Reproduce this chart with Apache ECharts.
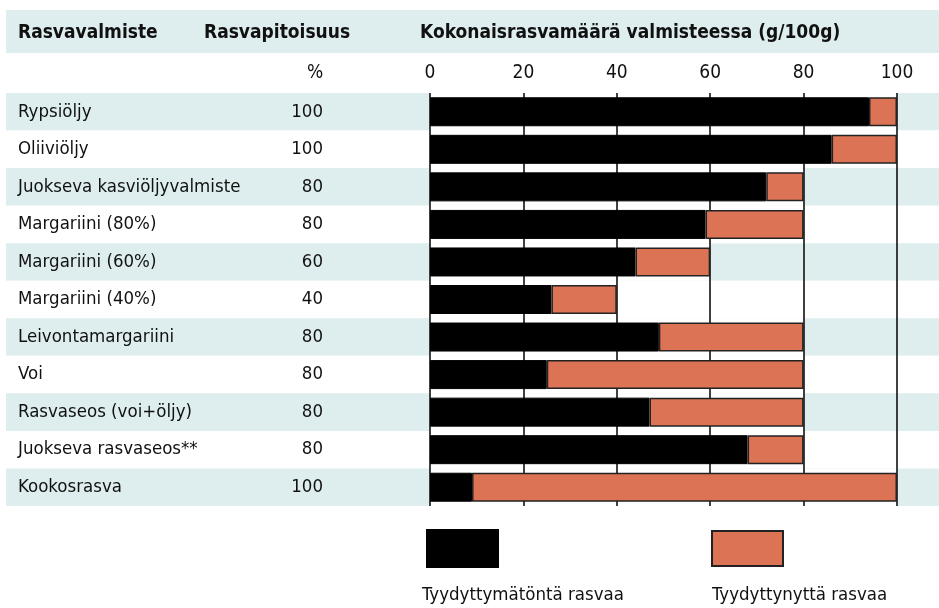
<!DOCTYPE html>
<html>
<head>
<meta charset="utf-8">
<script src="https://cdn.jsdelivr.net/npm/echarts@6/dist/echarts.min.js"></script>
<style>
  html, body { margin: 0; padding: 0; background: #fff; }
  #chart { width: 939px; height: 608px; }
</style>
</head>
<body>
<div id="chart"></div>
<script>
// rasvavalmisteet
const products = [
  "Rypsiöljy",
  "Oliiviöljy",
  "Juokseva kasviöljyvalmiste",
  "Margariini (80%)",
  "Margariini (60%)",
  "Margariini (40%)",
  "Leivontamargariini",
  "Voi",
  "Rasvaseos (voi+öljy)",
  "Juokseva rasvaseos**",
  "Kookosrasva"
];
// rasvapitoisuus %
const fatPct = [100, 100, 80, 80, 60, 40, 80, 80, 80, 80, 100];
// tyydyttymätöntä / tyydyttynyttä rasvaa g/100g
const unsaturated = [94, 86, 72, 59, 44, 26, 49, 25, 47, 68, 9];
const saturated = [6, 14, 8, 21, 16, 14, 31, 55, 33, 12, 91];

const FONT = '"DejaVu Sans Condensed", "Liberation Sans Narrow", sans-serif';
const BAND = "#deeded";
const ORANGE = "#dc7354";

const chart = echarts.init(document.getElementById("chart"));

const plotRect = { left: 430, right: 42, top: 93, bottom: 102 };
const headStyle = { fontFamily: FONT, fontSize: 19, fontWeight: "bold", color: "#111" };

chart.setOption({
  animation: false,
  textStyle: { fontFamily: FONT },
  title: [
    { text: "Rasvavalmiste", left: 18, top: 24, padding: 0, textStyle: headStyle },
    { text: "Rasvapitoisuus", left: 204, top: 24, padding: 0, textStyle: headStyle },
    { text: "Kokonaisrasvamäärä valmisteessa (g/100g)", left: 420, top: 24, padding: 0, textStyle: headStyle },
    { text: "%", left: 307, top: 64, padding: 0, textStyle: { fontFamily: FONT, fontSize: 19, fontWeight: "normal", color: "#111" } }
  ],
  graphic: [
    // otsikkorivin tausta
    { type: "rect", left: 6, top: 10, shape: { width: 933, height: 43 }, style: { fill: BAND }, z: -1 },
    { type: "text", left: 422, top: 586, style: { text: "Tyydyttymätöntä rasvaa", font: "18.5px " + FONT, fill: "#111" } },
    { type: "text", left: 712, top: 586, style: { text: "Tyydyttynyttä rasvaa", font: "18.5px " + FONT, fill: "#111" } }
  ],
  legend: [
    {
      data: ["Tyydyttymätöntä rasvaa"], left: 426, top: 529, padding: 0,
      itemWidth: 71, itemHeight: 37, icon: "rect",
      formatter: () => "", selectedMode: false
    },
    {
      data: ["Tyydyttynyttä rasvaa"], left: 711, top: 530, padding: 0,
      itemWidth: 71, itemHeight: 35, icon: "rect",
      formatter: () => "", selectedMode: false
    }
  ],
  grid: [
    // rivien raidat koko leveydeltä
    { left: 6, right: 0, top: plotRect.top, bottom: plotRect.bottom },
    // palkit
    Object.assign({}, plotRect),
    // valkoinen tausta palkkien alla
    Object.assign({}, plotRect)
  ],
  xAxis: [
    { gridIndex: 0, type: "value", show: false, min: 0, max: 1 },
    {
      gridIndex: 1, type: "value", position: "top", min: 0, max: 100, interval: 20, z: 3,
      axisLine: { show: false }, axisTick: { show: false },
      axisLabel: { fontSize: 19, color: "#111", margin: 10, fontFamily: FONT },
      splitLine: { show: true, lineStyle: { color: "#111", width: 1.6 } }
    },
    { gridIndex: 2, type: "value", show: false, min: 0, max: 100 }
  ],
  yAxis: [
    {
      gridIndex: 0, type: "category", data: products, inverse: true,
      axisLine: { show: false }, axisTick: { show: false }, axisLabel: { show: false },
      splitArea: { show: true, areaStyle: { color: [BAND, "#ffffff"] } }
    },
    {
      gridIndex: 1, type: "category", data: products, inverse: true, position: "left",
      axisLine: { show: false }, axisTick: { show: false },
      axisLabel: { align: "left", margin: 412, fontSize: 18.5, color: "#111", fontFamily: FONT }
    },
    {
      gridIndex: 1, type: "category", data: products, inverse: true, position: "left", offset: 0,
      axisLine: { show: false }, axisTick: { show: false },
      axisLabel: {
        align: "right", margin: 107, fontSize: 18.5, color: "#111", fontFamily: FONT,
        formatter: (v, i) => String(fatPct[i])
      }
    },
    {
      gridIndex: 2, type: "category", data: products, inverse: true, show: false
    }
  ],
  series: [
    {
      name: "tausta", type: "bar", xAxisIndex: 2, yAxisIndex: 3, z: 1, silent: true,
      barWidth: "100%",
      data: fatPct,
      itemStyle: { color: "#ffffff" }
    },
    {
      name: "Tyydyttymätöntä rasvaa", type: "bar", stack: "rasva", xAxisIndex: 1, yAxisIndex: 1, z: 5,
      barWidth: 29, data: unsaturated,
      itemStyle: { color: "#000000", borderColor: "#000000", borderWidth: 1 }
    },
    {
      name: "Tyydyttynyttä rasvaa", type: "bar", stack: "rasva", xAxisIndex: 1, yAxisIndex: 1, z: 5,
      barWidth: 29, data: saturated,
      itemStyle: { color: ORANGE, borderColor: "#222222", borderWidth: 1.5 }
    }
  ]
});
</script>
</body>
</html>
